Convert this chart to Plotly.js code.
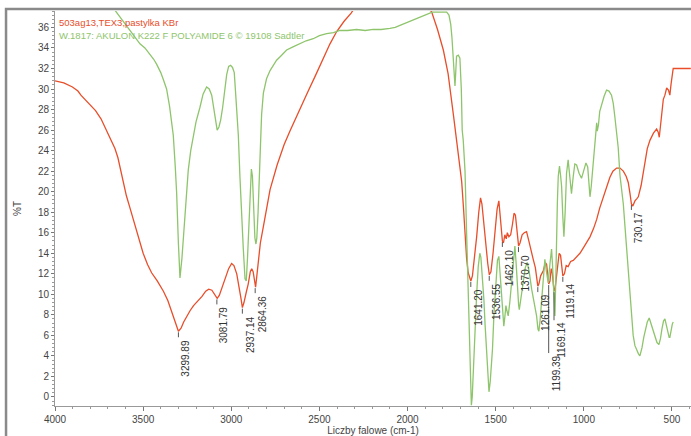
<!DOCTYPE html>
<html>
<head>
<meta charset="utf-8">
<script src="https://cdn.plot.ly/plotly-3.0.1.min.js"></script>
<style>html,body{margin:0;padding:0;background:#fff;}#chart{width:691px;height:436px;}</style>
</head>
<body>
<div id="chart"></div>
<script>
// Sample spectrum (red): wavenumber (cm-1) and %T
const sampleWn = [4000,3950,3901,3870,3853,3830,3805,3770,3739,3710,3681,3660,3643,3630,3615,3595,3576,3556,3538,3520,3500,3475,3452,3420,3385,3360,3338,3318,3300,3285,3270,3252,3234,3214,3190,3166,3145,3128,3110,3095,3080,3068,3050,3032,3015,2998,2985,2969,2958,2945,2937,2928,2915,2904,2892,2884,2876,2868,2862,2855,2848,2835,2818,2800,2780,2740,2700,2667,2620,2572,2520,2478,2440,2402,2360,2320,2300,2250,2100,1950,1880,1863,1830,1797,1770,1740,1722,1705,1693,1683,1674,1665,1656,1647,1641,1632,1620,1608,1596,1586,1578,1570,1561,1545,1536,1527,1515,1504,1492,1482,1474,1467,1462,1456,1448,1440,1434,1425,1415,1405,1396,1388,1380,1370,1362,1350,1338,1325,1312,1300,1287,1275,1265,1261,1255,1245,1230,1218,1211,1205,1199,1192,1185,1179,1172,1169,1162,1150,1140,1132,1125,1119,1110,1100,1089,1075,1060,1041,1022,1000,985,965,945,927,910,890,870,852,835,814,795,776,760,748,738,730,722,710,700,691,675,663,653,640,625,605,587,578,572,565,555,549,540,530,520,512,505,493,470,430,393];
const sampleT = [30.8,30.6,30.2,29.8,29.4,29.0,28.5,27.9,27.1,26.0,25.0,24.2,23.3,22.3,20.9,19.6,18.5,17.3,16.3,15.1,14.0,12.9,12.1,11.3,10.3,9.4,8.4,7.3,6.4,6.7,7.3,7.9,8.4,8.9,9.3,9.8,10.3,10.5,10.4,10.0,9.6,9.9,10.8,11.6,12.5,13.0,12.8,12.0,11.0,9.6,8.7,9.2,10.2,11.0,12.2,12.5,12.2,11.2,10.7,11.8,13.2,15.0,16.6,18.4,20.2,22.6,24.6,25.9,27.6,29.5,31.4,33.0,34.4,35.6,36.6,37.4,37.9,38.8,40.0,39.0,37.9,37.5,35.8,33.8,31.5,27.5,25.2,23.0,21.0,18.5,15.5,13.5,12.1,11.5,11.3,11.8,13.5,15.6,18.0,19.4,18.8,17.2,15.8,13.0,11.9,12.2,14.0,16.0,18.3,19.1,17.8,16.6,15.2,15.0,15.8,15.4,16.0,15.6,15.8,16.8,17.9,17.7,16.2,14.7,15.0,15.8,16.0,16.1,15.2,14.2,13.4,12.6,11.2,10.8,11.0,11.8,12.3,13.1,12.9,11.8,11.0,11.3,12.5,12.1,10.8,10.3,10.7,12.5,14.0,13.8,12.6,11.8,12.0,12.8,12.7,13.2,13.3,13.7,14.0,14.6,15.0,15.6,16.4,17.3,18.4,19.5,20.6,21.4,22.0,22.3,22.3,22.0,21.5,20.9,19.8,18.8,18.6,19.1,19.3,19.5,20.6,21.8,22.5,24.2,25.0,25.7,26.1,25.8,25.3,26.6,28.5,29.0,29.4,30.1,29.9,29.4,30.5,32.0,32.0,32.0,32.0];

// Reference spectrum (green): polyamide 6 library spectrum
const refWn = [3700,3641,3600,3560,3518,3490,3461,3440,3423,3400,3385,3367,3350,3340,3329,3318,3310,3300,3291,3280,3268,3256,3244,3230,3216,3200,3178,3160,3140,3125,3111,3100,3092,3080,3070,3060,3049,3038,3026,3015,3004,2993,2983,2975,2968,2960,2951,2942,2932,2922,2915,2908,2900,2893,2886,2880,2873,2866,2860,2855,2848,2840,2837,2828,2818,2800,2780,2760,2743,2720,2686,2650,2610,2575,2535,2500,2459,2420,2384,2340,2289,2240,2195,2150,2100,2070,2043,2000,1968,1930,1892,1860,1835,1800,1778,1765,1755,1748,1741,1735,1731,1727,1722,1712,1703,1695,1690,1684,1678,1674,1665,1657,1650,1644,1638,1633,1626,1618,1608,1599,1590,1584,1575,1567,1560,1552,1545,1538,1531,1524,1518,1510,1500,1490,1482,1475,1467,1460,1454,1448,1442,1435,1429,1420,1410,1400,1391,1384,1378,1370,1366,1355,1344,1332,1321,1310,1296,1282,1268,1260,1255,1248,1240,1230,1221,1212,1202,1192,1183,1178,1174,1168,1164,1159,1155,1150,1145,1138,1132,1126,1119,1113,1106,1098,1089,1080,1070,1060,1051,1041,1027,1013,1000,988,978,970,965,958,946,937,927,924,917,910,899,885,871,857,843,833,824,815,805,795,785,776,766,757,748,739,730,720,710,700,690,682,670,660,653,640,629,618,606,595,585,574,565,557,548,540,532,524,516,512,505,498,493];
const refT = [38.6,37.2,36.3,35.3,34.4,34.0,33.4,32.9,32.4,31.6,30.9,30.0,28.3,27.0,25.5,22.5,19.9,15.0,11.6,13.5,16.6,19.5,22.1,24.0,25.4,26.8,28.2,29.5,30.2,30.0,29.4,28.0,27.0,26.0,26.3,27.0,28.2,30.0,31.4,32.2,32.3,32.1,31.6,29.5,27.5,25.5,21.5,17.5,14.5,11.5,11.3,13.5,17.0,20.5,22.2,21.5,18.0,15.5,14.9,15.5,18.0,21.5,23.0,27.5,29.6,31.0,31.8,32.4,32.8,33.2,33.8,34.1,34.4,34.7,34.9,35.2,35.4,35.5,35.7,35.7,35.8,35.7,35.8,35.8,35.9,36.0,36.2,36.5,36.7,37.0,37.2,37.5,37.5,37.5,37.5,37.2,36.3,35.0,33.2,30.8,30.3,31.5,33.2,33.3,33.0,30.0,26.0,25.0,23.5,22.0,16.0,11.0,6.3,2.5,-0.8,0.0,3.0,6.3,10.0,12.7,14.0,13.6,11.5,9.5,7.0,4.7,2.2,0.5,1.5,3.2,4.7,8.0,11.1,13.3,13.7,12.0,9.8,7.6,6.9,7.8,8.9,8.3,7.9,9.2,11.1,13.2,14.7,13.0,10.8,9.0,8.5,10.0,11.5,12.6,13.1,12.2,10.5,9.3,7.9,6.6,6.4,7.5,9.5,11.8,13.4,12.2,11.1,13.0,14.4,13.0,11.5,8.5,7.9,11.5,16.0,19.0,21.5,22.5,21.6,20.5,17.5,15.6,18.0,21.8,23.1,21.5,19.8,21.5,22.7,22.6,21.8,21.3,22.0,22.8,22.4,20.5,19.5,20.5,23.0,25.0,26.7,25.9,26.5,27.8,28.5,29.3,29.9,29.8,29.4,28.6,27.3,25.8,24.3,21.6,20.0,18.8,16.5,14.4,12.0,9.5,7.8,6.0,5.0,4.5,4.2,4.0,4.8,5.8,6.3,7.3,7.7,7.1,6.5,5.8,5.3,5.1,5.7,6.6,7.4,7.6,7.0,6.3,5.8,5.8,6.6,7.1,7.3];

// Peak labels (sample spectrum minima)
const peakLabels = ["3299.89","3081.79","2937.14","2864.36","1641.20","1536.55","1462.10","1370.70","1261.09","1199.39","1169.14","1119.14","730.17"];
const peakWn = [3299.89,3081.79,2937.14,2864.36,1641.20,1536.55,1462.10,1370.70,1261.09,1199.39,1169.14,1119.14,730.17];
const peakT = [6.4,9.6,8.7,10.7,11.3,11.9,15.2,14.7,10.8,11.0,10.3,11.8,18.8];

const sampleName = "503ag13,TEX3,pastylka KBr";
const refName = "W.1817: AKULON K222 F POLYAMIDE 6 © 19108 Sadtler";
const xTicks = [4000,3500,3000,2500,2000,1500,1000,500];

const RED = "#e84e2a", GREEN = "#8ec56c";
const FONT = "Liberation Sans, Arial, sans-serif";
const dropPx = {"1199.39": 68, "1169.14": 28};

const traces = [
  {x: sampleWn, y: sampleT, type: "scatter", mode: "lines", line: {color: RED, width: 1.3}, name: sampleName, hoverinfo: "x+y"},
  {x: refWn, y: refT, type: "scatter", mode: "lines", line: {color: GREEN, width: 1.3}, name: refName, hoverinfo: "x+y"}
];

const shapes = [];
const annotations = [];
peakWn.forEach((w, i) => {
  const d = dropPx[peakLabels[i]] || 5;
  shapes.push({type: "line", xref: "x", yref: "y", x0: w, x1: w, ysizemode: "pixel", yanchor: peakT[i], y0: -1, y1: -1 - d, line: {color: "#555", width: 1}});
  annotations.push({xref: "x", yref: "y", x: w, y: peakT[i], text: peakLabels[i], showarrow: false, textangle: -90, xanchor: "left", yanchor: "top", xshift: 0, yshift: -(d + 1), font: {family: FONT, size: 10, color: "#333"}});
});
annotations.push({xref: "paper", yref: "paper", x: 0, y: 1, xanchor: "left", yanchor: "middle", xshift: 2, yshift: -11, text: sampleName, showarrow: false, font: {family: FONT, size: 9.5, color: RED}});
annotations.push({xref: "paper", yref: "paper", x: 0, y: 1, xanchor: "left", yanchor: "middle", xshift: 2, yshift: -24, text: refName, showarrow: false, font: {family: FONT, size: 9.5, color: GREEN}});

// outer frame
shapes.push({type: "rect", xref: "paper", yref: "paper", x0: -0.077, x1: 1.05, y0: -0.3, y1: 1.005, line: {color: "#8a8a8a", width: 2.5}, layer: "above"});

const layout = {
  width: 691, height: 436,
  margin: {l: 55, r: 0, t: 11, b: 30},
  paper_bgcolor: "#fff", plot_bgcolor: "#fff",
  showlegend: false,
  font: {family: FONT, size: 10, color: "#444"},
  xaxis: {
    range: [4000, 392], tickvals: xTicks, ticktext: xTicks.map(String),
    ticks: "outside", ticklen: 4, tickcolor: "#777", showline: true, linecolor: "#999", linewidth: 1,
    showgrid: false, zeroline: false,
    minor: {dtick: 100, tick0: 0, ticks: "outside", ticklen: 2, tickcolor: "#999", showgrid: false},
    tickfont: {family: FONT, size: 10, color: "#444"},
    title: {text: "Liczby falowe (cm-1)", font: {family: FONT, size: 10, color: "#444"}, standoff: 2}
  },
  yaxis: {
    range: [-0.88, 37.6], dtick: 2, tick0: 0,
    ticks: "outside", ticklen: 3, tickcolor: "#777", showline: true, linecolor: "#999", linewidth: 1,
    showgrid: false, zeroline: false,
    minor: {dtick: 0.4, tick0: 0, ticks: "outside", ticklen: 2, tickcolor: "#999", showgrid: false},
    tickfont: {family: FONT, size: 10, color: "#444"},
    title: {text: "%T", font: {family: FONT, size: 10, color: "#444"}, standoff: 14}
  },
  shapes: shapes,
  annotations: annotations
};

Plotly.newPlot("chart", traces, layout, {displayModeBar: false, staticPlot: true});
</script>
</body>
</html>
